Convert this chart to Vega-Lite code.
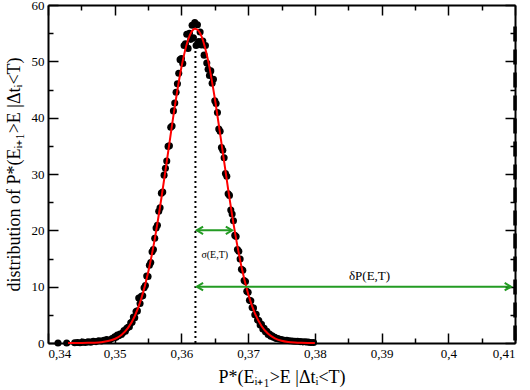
{
  "$schema": "https://vega.github.io/schema/vega-lite/v6.json",
  "autosize": {"type": "none"},
  "padding": {"left": 48, "top": 5, "right": 15, "bottom": 47},
  "width": 467,
  "height": 338,
  "background": "white",
  "config": {
    "view": {"stroke": null},
    "font": "Liberation Serif",
    "axis": {"grid": false, "domainColor": "black", "domainWidth": 2, "tickColor": "black", "tickWidth": 1.5, "labelColor": "black", "labelFont": "Liberation Serif", "labelFontSize": 13, "titleFont": "Liberation Serif", "titleFontSize": 18, "titleFontWeight": "normal", "titleColor": "black"}
  },
  "datasets": {
    "pts": [
      {"p":0.3415,"n":0},{"p":0.3428,"n":0},{"p":0.3440,"n":0.05},{"p":0.3444,"n":0.1},{"p":0.3448,"n":0.05},{"p":0.3452,"n":0.15},{"p":0.3456,"n":0.1},{"p":0.3460,"n":0.2},{"p":0.3464,"n":0.15},{"p":0.3468,"n":0.3},{"p":0.3472,"n":0.25},{"p":0.3476,"n":0.4},{"p":0.3480,"n":0.35},{"p":0.3484,"n":0.5},{"p":0.3488,"n":0.6},{"p":0.3492,"n":0.5},{"p":0.3496,"n":0.8},
      {"p":0.3500,"n":1.1},{"p":0.3502,"n":1.0},{"p":0.3504,"n":1.4},{"p":0.3506,"n":1.3},{"p":0.3508,"n":1.6},{"p":0.3510,"n":1.5},{"p":0.3512,"n":1.8},{"p":0.3514,"n":2.2},{"p":0.3516,"n":2.1},{"p":0.3518,"n":2.6},
      {"p":0.3520,"n":2.8},{"p":0.3522,"n":2.9},{"p":0.3524,"n":3.6},{"p":0.3526,"n":3.7},{"p":0.3528,"n":4.6},{"p":0.3530,"n":4.5},{"p":0.3532,"n":5.6},{"p":0.3534,"n":5.7},{"p":0.3536,"n":8.0},{"p":0.3538,"n":7.0},
      {"p":0.3540,"n":8.3},{"p":0.3542,"n":8.4},{"p":0.3544,"n":9.8},{"p":0.3546,"n":10.2},{"p":0.3548,"n":11.9},{"p":0.3550,"n":11.8},{"p":0.3552,"n":13.8},{"p":0.3554,"n":14.3},{"p":0.3556,"n":16.2},{"p":0.3558,"n":16.6},
      {"p":0.3560,"n":18.6},{"p":0.3562,"n":20.4},{"p":0.3564,"n":20.9},{"p":0.3566,"n":23.4},{"p":0.3568,"n":24.0},{"p":0.3570,"n":26.6},{"p":0.3572,"n":26.8},{"p":0.3574,"n":29.8},{"p":0.3576,"n":31.0},{"p":0.3578,"n":32.3},
      {"p":0.3580,"n":34.9},{"p":0.3582,"n":35.0},{"p":0.3584,"n":38.3},{"p":0.3586,"n":38.5},{"p":0.3588,"n":41.2},{"p":0.3590,"n":42.6},{"p":0.3592,"n":44.5},{"p":0.3594,"n":46.0},{"p":0.3596,"n":47.9},{"p":0.3598,"n":50.3},
      {"p":0.3600,"n":50.5},{"p":0.3602,"n":49.6},{"p":0.3604,"n":52.8},{"p":0.3606,"n":53.1},{"p":0.3608,"n":54.8},{"p":0.3610,"n":52.3},{"p":0.3612,"n":55.0},{"p":0.3614,"n":53.9},{"p":0.3616,"n":56.4},{"p":0.3618,"n":54.2},
      {"p":0.3620,"n":56.9},{"p":0.3622,"n":52.8},{"p":0.3624,"n":56.5},{"p":0.3626,"n":53.5},{"p":0.3628,"n":55.2},{"p":0.3630,"n":52.9},{"p":0.3632,"n":53.6},{"p":0.3634,"n":51.1},{"p":0.3636,"n":52.8},{"p":0.3638,"n":49.7},
      {"p":0.3640,"n":48.6},{"p":0.3642,"n":47.5},{"p":0.3644,"n":48.3},{"p":0.3646,"n":46.1},{"p":0.3648,"n":46.8},{"p":0.3650,"n":43.0},{"p":0.3652,"n":42.5},{"p":0.3654,"n":40.9},{"p":0.3656,"n":38.0},{"p":0.3658,"n":37.6},
      {"p":0.3660,"n":34.7},{"p":0.3662,"n":34.2},{"p":0.3664,"n":32.9},{"p":0.3666,"n":30.1},{"p":0.3668,"n":29.6},{"p":0.3670,"n":26.5},{"p":0.3672,"n":26.2},{"p":0.3674,"n":23.6},{"p":0.3676,"n":22.9},{"p":0.3678,"n":21.7},
      {"p":0.3680,"n":19.1},{"p":0.3682,"n":18.9},{"p":0.3684,"n":16.6},{"p":0.3686,"n":16.3},{"p":0.3688,"n":14.9},{"p":0.3690,"n":13.1},{"p":0.3692,"n":12.9},{"p":0.3694,"n":11.1},{"p":0.3696,"n":10.9},{"p":0.3698,"n":9.2},
      {"p":0.3700,"n":9.0},{"p":0.3702,"n":7.6},{"p":0.3704,"n":7.5},{"p":0.3706,"n":6.3},{"p":0.3708,"n":6.2},{"p":0.3710,"n":5.0},{"p":0.3712,"n":5.1},{"p":0.3714,"n":4.1},{"p":0.3716,"n":4.0},{"p":0.3718,"n":3.2},
      {"p":0.3720,"n":3.3},{"p":0.3722,"n":2.5},{"p":0.3724,"n":2.6},{"p":0.3726,"n":2.0},{"p":0.3728,"n":2.1},{"p":0.3730,"n":1.5},{"p":0.3732,"n":1.6},{"p":0.3734,"n":1.2},{"p":0.3736,"n":1.3},{"p":0.3738,"n":1.0},
      {"p":0.3740,"n":1.0},{"p":0.3742,"n":0.8},{"p":0.3744,"n":0.8},{"p":0.3746,"n":0.7},
      {"p":0.3750,"n":0.6},{"p":0.3754,"n":0.5},{"p":0.3758,"n":0.5},{"p":0.3762,"n":0.4},{"p":0.3766,"n":0.35},{"p":0.3770,"n":0.3},{"p":0.3774,"n":0.3},{"p":0.3778,"n":0.25},{"p":0.3782,"n":0.2},{"p":0.3786,"n":0.2},{"p":0.3790,"n":0.15},{"p":0.3794,"n":0.1},{"p":0.3798,"n":0.1}
    ],
    "fit": [
      {"p":0.343,"n":0.001},{"p":0.344,"n":0.003},{"p":0.345,"n":0.009},{"p":0.346,"n":0.025},{"p":0.347,"n":0.063},{"p":0.348,"n":0.151},{"p":0.349,"n":0.339},{"p":0.350,"n":0.716},{"p":0.351,"n":1.429},{"p":0.352,"n":2.686},
      {"p":0.353,"n":4.753},{"p":0.354,"n":7.924},{"p":0.355,"n":12.46},{"p":0.356,"n":18.45},{"p":0.357,"n":25.74},{"p":0.358,"n":33.84},{"p":0.359,"n":41.93},{"p":0.360,"n":48.94},{"p":0.361,"n":53.83},{"p":0.3615,"n":55.21},
      {"p":0.362,"n":55.78},{"p":0.3625,"n":55.53},{"p":0.363,"n":54.47},{"p":0.364,"n":50.12},{"p":0.365,"n":43.45},{"p":0.366,"n":35.49},{"p":0.367,"n":27.32},{"p":0.368,"n":19.82},{"p":0.369,"n":13.54},{"p":0.370,"n":8.722},
      {"p":0.371,"n":5.289},{"p":0.372,"n":3.026},{"p":0.373,"n":1.629},{"p":0.374,"n":0.827},{"p":0.375,"n":0.395},{"p":0.376,"n":0.178},{"p":0.377,"n":0.076},{"p":0.378,"n":0.030},{"p":0.379,"n":0.011},{"p":0.380,"n":0.004}
    ],
    "arrows": [
      {"a":0.3623,"b":0.3676,"n":20},
      {"a":0.3623,"b":0.4094,"n":10}
    ],
    "headsR": [{"p":0.3676,"n":20},{"p":0.4094,"n":10}],
    "headsL": [{"p":0.3623,"n":20},{"p":0.3623,"n":10}]
  },
  "resolve": {"axis": {"x": "independent", "y": "independent"}},
  "layer": [
    {
      "data": {"name": "pts"},
      "mark": {"type": "circle", "color": "black", "opacity": 1, "size": 50},
      "encoding": {
        "x": {"field": "p", "type": "quantitative", "scale": {"domain": [0.34, 0.41], "nice": false, "zero": false},
          "axis": {"orient": "bottom", "values": [0.34,0.35,0.36,0.37,0.38,0.39,0.4,0.41], "tickSize": -10, "labelPadding": 14, "labelExpr": "replace(format(datum.value, '.2~f'), '.', ',')", "title": "P*(Eᵢ₊₁>E |Δtᵢ<T)", "titlePadding": 8}},
        "y": {"field": "n", "type": "quantitative", "scale": {"domain": [0, 60], "nice": false, "zero": true},
          "axis": {"orient": "left", "values": [0,10,20,30,40,50,60], "tickSize": -10, "labelPadding": 14, "title": "distribution of  P*(Eᵢ₊₁>E |Δtᵢ<T)", "titlePadding": 8}}
      }
    },
    {
      "data": {"name": "fit"},
      "mark": {"type": "line", "color": "#ff0000", "strokeWidth": 2, "interpolate": "monotone"},
      "encoding": {
        "x": {"field": "p", "type": "quantitative", "scale": {"domain": [0.34, 0.41], "nice": false, "zero": false},
          "axis": {"orient": "top", "values": [0.34,0.35,0.36,0.37,0.38,0.39,0.4,0.41], "tickSize": -10, "labels": false, "title": null}},
        "y": {"field": "n", "type": "quantitative", "scale": {"domain": [0, 60], "nice": false},
          "axis": {"orient": "right", "values": [0,10,20,30,40,50,60], "tickSize": -10, "labels": false, "title": null}}
      }
    },
    {
      "data": {"values": [{"p": 0.3621, "n": 0, "n2": 54}]},
      "mark": {"type": "rule", "color": "black", "strokeWidth": 2, "strokeDash": [2, 3]},
      "encoding": {
        "x": {"field": "p", "type": "quantitative", "scale": {"domain": [0.34, 0.41], "nice": false, "zero": false},
          "axis": {"orient": "bottom", "values": [0.345,0.355,0.365,0.375,0.385,0.395,0.405], "tickSize": -5, "labels": false, "domain": false, "title": null}},
        "y": {"field": "n", "type": "quantitative", "scale": {"domain": [0, 60], "nice": false},
          "axis": {"orient": "left", "values": [5,15,25,35,45,55], "tickSize": -5, "labels": false, "domain": false, "title": null}},
        "y2": {"field": "n2"}
      }
    },
    {
      "data": {"values": [{"p": 0.41, "n": 56.2, "n2": 0}]},
      "mark": {"type": "rule", "color": "black", "strokeWidth": 3.5, "strokeDash": [15, 8]},
      "encoding": {
        "x": {"field": "p", "type": "quantitative", "scale": {"domain": [0.34, 0.41], "nice": false, "zero": false},
          "axis": {"orient": "top", "values": [0.345,0.355,0.365,0.375,0.385,0.395,0.405], "tickSize": -5, "labels": false, "domain": false, "title": null}},
        "y": {"field": "n", "type": "quantitative", "scale": {"domain": [0, 60], "nice": false},
          "axis": {"orient": "right", "values": [5,15,25,35,45,55], "tickSize": -5, "labels": false, "domain": false, "title": null}},
        "y2": {"field": "n2"}
      }
    },
    {
      "data": {"name": "arrows"},
      "mark": {"type": "rule", "color": "#239b23", "strokeWidth": 2},
      "encoding": {
        "x": {"field": "a", "type": "quantitative", "axis": null},
        "x2": {"field": "b"},
        "y": {"field": "n", "type": "quantitative", "axis": null}
      }
    },
    {
      "data": {"name": "headsR"},
      "mark": {"type": "point", "shape": "M -1,-0.6 L 0,0 L -1,0.6", "filled": false, "stroke": "#239b23", "strokeWidth": 2, "size": 160, "opacity": 1},
      "encoding": {
        "x": {"field": "p", "type": "quantitative", "axis": null},
        "y": {"field": "n", "type": "quantitative", "axis": null}
      }
    },
    {
      "data": {"name": "headsL"},
      "mark": {"type": "point", "shape": "M 1,-0.6 L 0,0 L 1,0.6", "filled": false, "stroke": "#239b23", "strokeWidth": 2, "size": 160, "opacity": 1},
      "encoding": {
        "x": {"field": "p", "type": "quantitative", "axis": null},
        "y": {"field": "n", "type": "quantitative", "axis": null}
      }
    },
    {
      "data": {"values": [{"p": 0.3650, "n": 15.6, "t": "σ(E,T)", "s": 10}, {"p": 0.3882, "n": 11.9, "t": "δP(E,T)", "s": 13}]},
      "mark": {"type": "text", "font": "Liberation Serif", "color": "black", "baseline": "middle", "align": "center"},
      "encoding": {
        "x": {"field": "p", "type": "quantitative", "axis": null},
        "y": {"field": "n", "type": "quantitative", "axis": null},
        "text": {"field": "t"},
        "size": {"field": "s", "type": "quantitative", "scale": null}
      }
    }
  ]
}
